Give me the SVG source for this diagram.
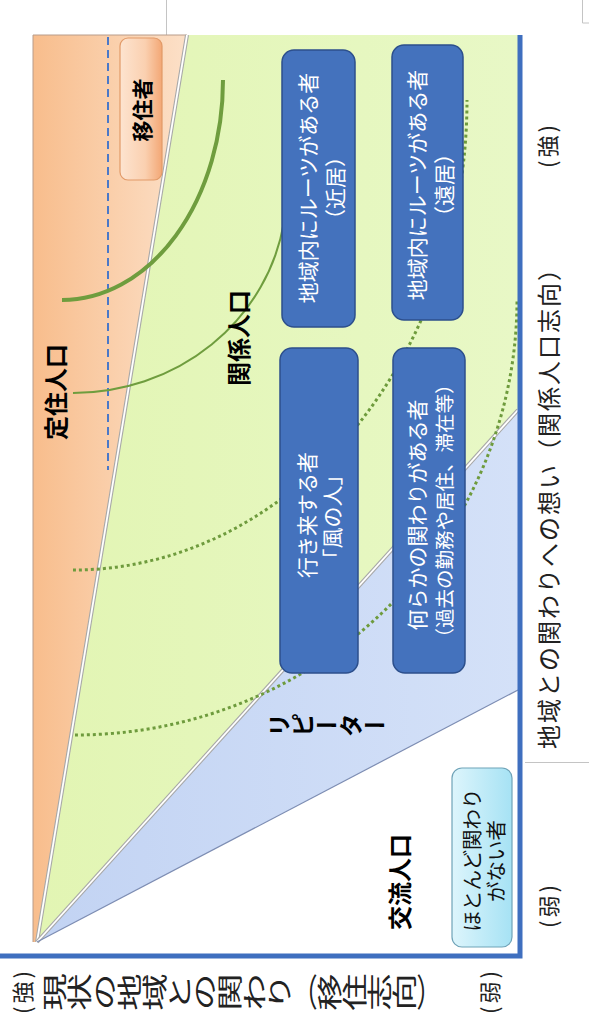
<svg xmlns="http://www.w3.org/2000/svg" width="589" height="1024" viewBox="0 0 589 1024">
<defs>
  <linearGradient id="gOrange" x1="33" y1="0" x2="187" y2="0" gradientUnits="userSpaceOnUse">
    <stop offset="0" stop-color="#F8BD8C"/><stop offset="1" stop-color="#FCE0C8"/>
  </linearGradient>
  <linearGradient id="gGreen" x1="37" y1="0" x2="518" y2="0" gradientUnits="userSpaceOnUse">
    <stop offset="0" stop-color="#E2F5B3"/><stop offset="1" stop-color="#E8F8C6"/>
  </linearGradient>
  <linearGradient id="gBlue" x1="37" y1="0" x2="518" y2="0" gradientUnits="userSpaceOnUse">
    <stop offset="0" stop-color="#C2D3F3"/><stop offset="1" stop-color="#D4E1F8"/>
  </linearGradient>
  <linearGradient id="gMig" x1="0" y1="0" x2="1" y2="0">
    <stop offset="0" stop-color="#FDE4D0"/><stop offset="0.6" stop-color="#FAD0B0"/><stop offset="1" stop-color="#F3A775"/>
  </linearGradient>
  <linearGradient id="gCyan" x1="0" y1="0" x2="1" y2="0">
    <stop offset="0" stop-color="#DDF5FC"/><stop offset="1" stop-color="#A6E2F4"/>
  </linearGradient>
</defs>
<style>
  .jp{font-family:"Noto Sans CJK JP","Noto Sans CJK SC",sans-serif}
  .bl{font-weight:bold;fill:#000}
  .bt{fill:#fff;font-size:21px}
  .ax{fill:#222;font-size:24px}
  .sm{fill:#222;font-size:22px;letter-spacing:3px}
  .vt{writing-mode:vertical-rl;text-orientation:upright}
  .box{fill:#4472BD;stroke:#2C4F8C;stroke-width:1.5}
  .dot{fill:none;stroke:#6E9B3D;stroke-width:3;stroke-dasharray:3 3}
  .arc{fill:none;stroke:#6F9D3E}
  .faint{fill:none;stroke:#C4C4C4;stroke-width:1}
</style>
<rect width="589" height="1024" fill="#fff"/>

<g id="background-lines">
  <path class="faint" d="M166.5,0 V35 M582.5,0 V23 H589 M525,762.5 H589"/>
</g>

<g id="regions">
  <polygon id="settled-region" points="33,35 187,35 37,942 33,942" fill="url(#gOrange)"/>
  <polygon id="related-region" points="187,35 518,35 518,410 37,942" fill="url(#gGreen)"/>
  <polygon id="repeater-region" points="37,942 518,410 518,690" fill="url(#gBlue)"/>
  <path d="M33,942 V35 H187" fill="none" stroke="#B89C8A" stroke-width="1"/>
  <line x1="187" y1="35" x2="37" y2="942" stroke="#A8A8A8" stroke-width="4"/>
  <line x1="187" y1="35" x2="37" y2="942" stroke="#FFFFFF" stroke-width="1.8"/>
  <line x1="518" y1="410" x2="37" y2="942" stroke="#A8A8A8" stroke-width="4"/>
  <line x1="518" y1="410" x2="37" y2="942" stroke="#FFFFFF" stroke-width="1.8"/>
  <line x1="518" y1="690" x2="37" y2="942" stroke="#7D8DB3" stroke-width="1.2"/>
</g>

<g id="curves">
  <line x1="108" y1="37" x2="108" y2="470" stroke="#4A78C8" stroke-width="2" stroke-dasharray="8 5"/>
  <path class="arc" stroke-width="4" d="M62,300 A161,220 0 0 0 223,80"/>
  <path class="arc" stroke-width="2" d="M73,393 A213.6,203 0 0 0 284,222"/>
  <path class="dot" d="M73,570 A394,470 0 0 0 467,100"/>
  <path class="dot" d="M75,735 A442,435 0 0 0 517,300"/>
</g>

<g id="axes">
  <path d="M0,956 H520 V35" fill="none" stroke="#3F6FBF" stroke-width="5"/>
</g>

<g id="node-migrant">
  <rect x="120" y="38" width="42" height="142" rx="8" fill="url(#gMig)" stroke="#E29A68" stroke-width="1.2"/>
  <text class="jp bl" font-size="21" text-anchor="middle" dominant-baseline="central" transform="translate(141,110) rotate(-90)">移住者</text>
</g>

<g id="node-roots-near">
  <rect class="box" x="282" y="50" width="73" height="277" rx="12"/>
  <text class="jp bt" text-anchor="middle" dominant-baseline="central" transform="translate(307,188) rotate(-90)">地域内にルーツがある者</text>
  <text class="jp bt" text-anchor="middle" dominant-baseline="central" transform="translate(334,188) rotate(-90)">（近居）</text>
</g>

<g id="node-roots-far">
  <rect class="box" x="392" y="45" width="71" height="275" rx="12"/>
  <text class="jp bt" text-anchor="middle" dominant-baseline="central" transform="translate(416,185) rotate(-90)">地域内にルーツがある者</text>
  <text class="jp bt" text-anchor="middle" dominant-baseline="central" transform="translate(443,185) rotate(-90)">（遠居）</text>
</g>

<g id="node-wind">
  <rect class="box" x="280" y="348" width="78" height="325" rx="12"/>
  <text class="jp bt" text-anchor="middle" dominant-baseline="central" transform="translate(306,515) rotate(-90)">行き来する者</text>
  <text class="jp bt" text-anchor="middle" dominant-baseline="central" transform="translate(331,517) rotate(-90)">「風の人」</text>
</g>

<g id="node-some-relation">
  <rect class="box" x="393" y="348" width="72" height="325" rx="12"/>
  <text class="jp bt" text-anchor="middle" dominant-baseline="central" transform="translate(416,515) rotate(-90)">何らかの関わりがある者</text>
  <text class="jp bt" style="font-size:19.5px" text-anchor="middle" dominant-baseline="central" transform="translate(443,511) rotate(-90)">（過去の勤務や居住、滞在等）</text>
</g>

<g id="node-little-relation">
  <rect x="452" y="768" width="60" height="179" rx="10" fill="url(#gCyan)" stroke="#6FA3B8" stroke-width="1.2"/>
  <text class="jp" fill="#111" font-size="20.5" text-anchor="middle" dominant-baseline="central" transform="translate(471,860) rotate(-90)">ほとんど関わり</text>
  <text class="jp" fill="#111" font-size="20.5" text-anchor="middle" dominant-baseline="central" transform="translate(495,861) rotate(-90)">がない者</text>
</g>

<g id="label-settled">
  <text class="jp bl" font-size="24" text-anchor="middle" dominant-baseline="central" transform="translate(54,392) rotate(-90)">定住人口</text>
</g>
<g id="label-related">
  <text class="jp bl" font-size="24" text-anchor="middle" dominant-baseline="central" transform="translate(237,338) rotate(-90)">関係人口</text>
</g>
<g id="label-repeater">
  <text class="jp bl vt" font-size="24" transform="translate(267,725) rotate(-90)" x="0" y="0">リピーター</text>
</g>
<g id="label-exchange">
  <text class="jp bl" font-size="24" text-anchor="middle" dominant-baseline="central" transform="translate(398,882) rotate(-90)">交流人口</text>
</g>

<g id="axis-x-label">
  <text class="jp sm" text-anchor="middle" dominant-baseline="central" transform="translate(546,145) rotate(-90)">(強)</text>
  <text class="jp ax" text-anchor="middle" dominant-baseline="central" letter-spacing="2" transform="translate(547,502) rotate(-90)">地域との関わりへの想い（関係人口志向）</text>
  <text class="jp sm" text-anchor="middle" dominant-baseline="central" transform="translate(547,905) rotate(-90)">(弱)</text>
</g>

<g id="axis-y-label">
  <text class="jp sm" text-anchor="middle" dominant-baseline="central" transform="translate(21,991) rotate(-90)">(強)</text>
  <g transform="translate(42,992) scale(1,1.5) rotate(-90)">
    <text class="jp ax vt" style="font-size:25px" x="0" y="0">現状の地域との関わり（移住志向）</text>
  </g>
  <text class="jp sm" text-anchor="middle" dominant-baseline="central" transform="translate(488,991) rotate(-90)">(弱)</text>
</g>
</svg>
